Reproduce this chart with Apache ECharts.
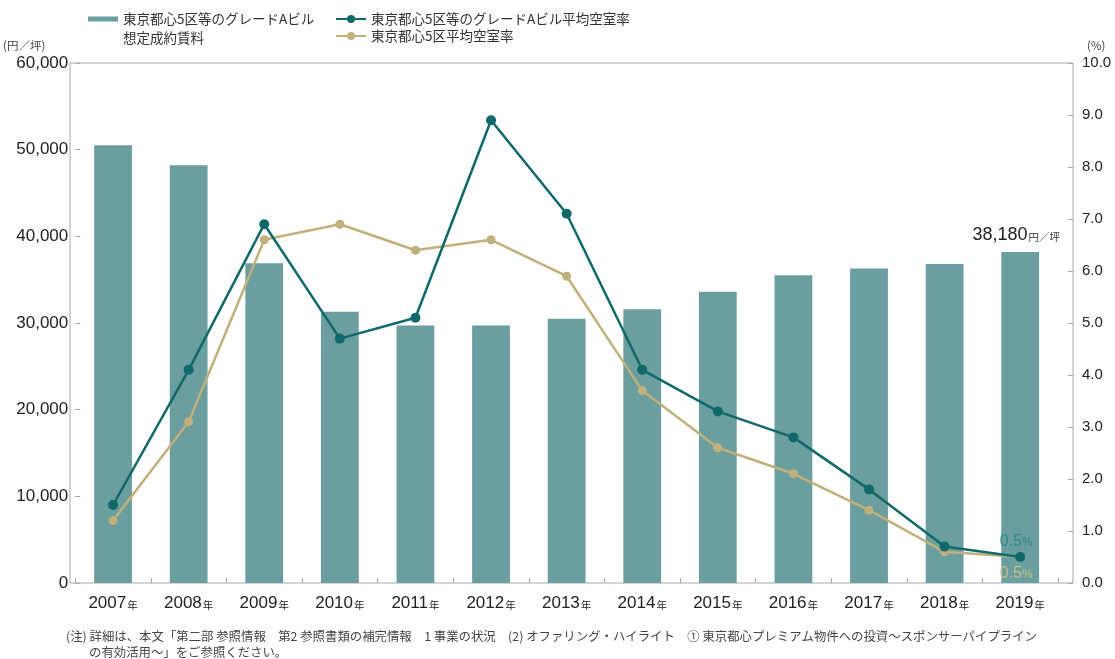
<!DOCTYPE html>
<html lang="ja">
<head>
<meta charset="utf-8">
<title>東京都心5区 賃料・空室率推移</title>
<script src="https://cdn.jsdelivr.net/npm/echarts@6/dist/echarts.min.js"></script>
<style>
  html, body { margin: 0; padding: 0; background: #ffffff; }
  #chart { width: 1115px; height: 659px; }
</style>
</head>
<body>
<div id="chart"></div>
<script>
// 年次カテゴリ
const years = ['2007', '2008', '2009', '2010', '2011', '2012', '2013',
               '2014', '2015', '2016', '2017', '2018', '2019'];

// 東京都心5区等のグレードAビル 想定成約賃料（円／坪）
const rentGradeA = [50500, 48200, 36900, 31300, 29700, 29700, 30500,
                    31600, 33600, 35500, 36300, 36800, 38180];

// 東京都心5区等のグレードAビル 平均空室率（%）
const vacancyGradeA = [1.5, 4.1, 6.9, 4.7, 5.1, 8.9, 7.1,
                       4.1, 3.3, 2.8, 1.8, 0.7, 0.5];

// 東京都心5区 平均空室率（%）
const vacancyFiveWards = [1.2, 3.1, 6.6, 6.9, 6.4, 6.6, 5.9,
                          3.7, 2.6, 2.1, 1.4, 0.6, 0.5];

// 軸目盛
const rentTicks = { min: 0, max: 60000, interval: 10000 };
const rateTicks = { min: 0, max: 10, interval: 1 };

const nameRent = '東京都心5区等のグレードAビル\n想定成約賃料';
const nameVacA = '東京都心5区等のグレードAビル平均空室率';
const nameVac5 = '東京都心5区平均空室率';

const FONT = '"Liberation Sans", Arial, "Noto Sans CJK JP", sans-serif';
const CJK = '"Noto Sans CJK JP", "Liberation Sans", sans-serif';

const colBar = '#6b9e9e';
const colTeal = '#11686b';
const colGold = '#c0b07c';
const colFrame = '#a8a8a8';
const last = years.length - 1;

// 凡例の帯アイコン：上端に帯を置き、2行テキストの1行目に揃える
const barLegendIcon = 'path://M0,0H30V5H0ZM0,24H30';

const fmtComma = v => String(v).replace(/\B(?=(\d{3})+(?!\d))/g, ',');

const chart = echarts.init(document.getElementById('chart'), null, { renderer: 'canvas' });

const option = {
  backgroundColor: '#ffffff',
  animation: false,
  textStyle: { fontFamily: FONT },
  title: [
    {
      text: '(注) 詳細は、本文「第二部 参照情報　第2 参照書類の補完情報　1 事業の状況　(2) オファリング・ハイライト　① 東京都心プレミアム物件への投資～スポンサーパイプライン',
      left: 66, top: 630, padding: 0,
      textStyle: { fontFamily: CJK, fontSize: 12.4, fontWeight: 'normal', color: '#444' }
    },
    {
      text: 'の有効活用～」をご参照ください。',
      left: 89, top: 646, padding: 0,
      textStyle: { fontFamily: CJK, fontSize: 12.4, fontWeight: 'normal', color: '#444' }
    }
  ],
  legend: [
    {
      data: [{ name: nameRent, icon: barLegendIcon }],
      left: 88, top: 9.5, padding: 0,
      itemWidth: 30, itemHeight: 24, itemGap: 0,
      selectedMode: false,
      textStyle: { fontFamily: CJK, fontSize: 13.5, color: '#333', lineHeight: 19 }
    },
    {
      data: [nameVacA, nameVac5],
      orient: 'vertical',
      left: 335, top: 11, padding: 0,
      itemWidth: 30, itemHeight: 10, itemGap: 1,
      selectedMode: false,
      textStyle: { fontFamily: CJK, fontSize: 13.5, color: '#333', lineHeight: 16 }
    }
  ],
  grid: [
    // 外枠
    { left: 70, right: 42, top: 63, bottom: 76, show: true, borderColor: colFrame, borderWidth: 1, backgroundColor: 'transparent' },
    // データ領域
    { left: 70, right: 57, top: 63, bottom: 76 }
  ],
  xAxis: [
    { gridIndex: 0, type: 'value', show: false, min: 0, max: 1 },
    {
      gridIndex: 1, type: 'category', data: years,
      boundaryGap: true,
      axisLine: { show: false },
      axisTick: { show: true, inside: true, length: 5, lineStyle: { color: colFrame } },
      axisLabel: {
        interval: 0,
        margin: 12,
        formatter: v => `{y|${v}}{n|年}`,
        rich: {
          y: { fontFamily: FONT, fontSize: 17, color: '#222' },
          n: { fontFamily: CJK, fontSize: 10.5, color: '#222', padding: [3, 0, 0, 1] }
        }
      }
    }
  ],
  yAxis: [
    { gridIndex: 0, type: 'value', show: false, min: 0, max: 1 },
    {
      gridIndex: 1, type: 'value', position: 'left',
      min: rentTicks.min, max: rentTicks.max, interval: rentTicks.interval,
      name: '(円／坪)', nameLocation: 'end', nameGap: 12,
      nameTextStyle: { fontFamily: CJK, fontSize: 11.5, color: '#444', align: 'right', padding: [0, 30, 0, 0] },
      axisLine: { show: false },
      axisTick: { show: true, inside: true, length: 5, lineStyle: { color: colFrame } },
      splitLine: { show: false },
      axisLabel: { margin: 7, fontSize: 17, color: '#222', formatter: fmtComma }
    },
    {
      gridIndex: 1, type: 'value', position: 'right', offset: 15,
      min: rateTicks.min, max: rateTicks.max, interval: rateTicks.interval,
      name: '(%)', nameLocation: 'end', nameGap: 12,
      nameTextStyle: { fontFamily: CJK, fontSize: 11.5, color: '#444', align: 'left', padding: [0, 0, 0, 14] },
      axisLine: { show: false },
      axisTick: { show: true, inside: true, length: 5, lineStyle: { color: colFrame } },
      splitLine: { show: false },
      axisLabel: { margin: 9, fontSize: 15, color: '#222', formatter: v => v.toFixed(1) }
    }
  ],
  series: [
    {
      name: nameRent,
      type: 'bar',
      xAxisIndex: 1, yAxisIndex: 1,
      barWidth: '50%',
      itemStyle: { color: colBar },
      data: rentGradeA.map((v, i) => i === last ? {
        value: v,
        label: {
          show: true, position: 'top', distance: 8, offset: [-4, 0],
          formatter: p => `{v|${fmtComma(p.value)}}{u|円／坪}`,
          rich: {
            v: { fontFamily: FONT, fontSize: 18, color: '#222' },
            u: { fontFamily: CJK, fontSize: 10.5, color: '#333', padding: [3, 0, 0, 1] }
          }
        }
      } : v)
    },
    {
      name: nameVacA,
      type: 'line',
      xAxisIndex: 1, yAxisIndex: 2,
      symbol: 'circle', symbolSize: 10,
      lineStyle: { color: colTeal, width: 2.5 },
      itemStyle: { color: colTeal },
      z: 4,
      data: vacancyGradeA.map((v, i) => i === last ? {
        value: v,
        label: {
          show: true, position: 'top', distance: 2, offset: [-4, 0],
          formatter: p => `{v|${p.value.toFixed(1)}}{u|%}`,
          rich: {
            v: { fontFamily: FONT, fontSize: 16, color: '#2a8b8c' },
            u: { fontFamily: FONT, fontSize: 12, color: '#2a8b8c', padding: [2, 0, 0, 0] }
          }
        }
      } : v)
    },
    {
      name: nameVac5,
      type: 'line',
      xAxisIndex: 1, yAxisIndex: 2,
      symbol: 'circle', symbolSize: 9,
      lineStyle: { color: colGold, width: 2.5 },
      itemStyle: { color: colGold },
      z: 3,
      data: vacancyFiveWards.map((v, i) => i === last ? {
        value: v,
        label: {
          show: true, position: 'bottom', distance: 4, offset: [-4, 0],
          formatter: p => `{v|${p.value.toFixed(1)}}{u|%}`,
          rich: {
            v: { fontFamily: FONT, fontSize: 16, color: '#cdbf88' },
            u: { fontFamily: FONT, fontSize: 12, color: '#cdbf88', padding: [2, 0, 0, 0] }
          }
        }
      } : v)
    }
  ]
};

chart.setOption(option);
</script>
</body>
</html>
